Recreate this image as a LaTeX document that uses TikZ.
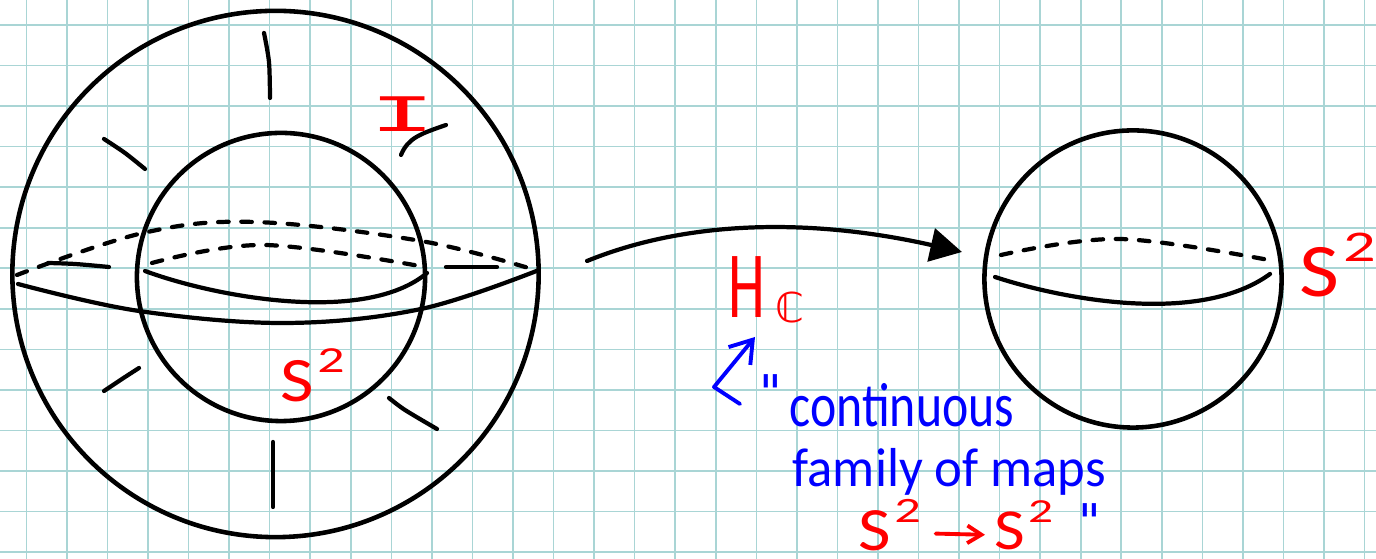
\documentclass[tikz,border=0pt]{standalone}
\usepackage{fontspec}
\setmainfont{Carlito}
\newfontfamily\slabfont{Liberation Mono}
\newfontfamily\symbfont{DejaVu Sans}
\usetikzlibrary{arrows.meta,positioning}
\definecolor{SketchRed}{HTML}{FF0000}
\definecolor{SketchBlue}{HTML}{0000FF}
\definecolor{SketchGrid}{HTML}{A9D5D5}
\newcommand{\handsize}[1]{\fontsize{#1}{#1}\selectfont}
\newcommand{\squared}{\scalebox{1.15}[1]{S}\kern.05em\raisebox{.47em}{\scalebox{.85}[.58]{2}}}
\tikzset{
  gridline/.style={draw=SketchGrid,line width=0.45pt},
  sphere/.style={circle,draw=black,line width=1.3pt,inner sep=0pt},
  stroke/.style={draw=black,line width=1.2pt,line cap=round},
  hidden/.style={stroke,dash pattern=on 3pt off 3.6pt},
  redlabel/.style={text=SketchRed,anchor=base west,inner sep=0pt},
  bluelabel/.style={text=SketchBlue,anchor=base west,inner sep=0pt},
  bigarrow/.style={-{Triangle[length=9pt,width=9.5pt]},stroke},
  bluearrow/.style={-{Straight Barb[length=6pt,width=8pt]},draw=SketchBlue,line width=1.1pt,line cap=round,line join=round},
  redarrow/.style={-{Straight Barb[length=4pt,width=5pt]},draw=SketchRed,line width=1.1pt,line cap=round}
}
\begin{document}
\begin{tikzpicture}[x=0.01cm,y=-0.01cm]
  \useasboundingbox (0,0) rectangle (1376,559);
  \foreach \k in {0,...,33} {
    \draw[gridline] ({26.4+40.55*\k},0) -- ({26.4+40.55*\k},559);
  }
  \foreach \k in {0,...,13} {
    \draw[gridline] (0,{25+40.55*\k}) -- (1376,{25+40.55*\k});
  }

  \node[sphere,minimum size=5.26cm] (outer) at (275.5,274) {};
  \node[sphere,minimum size=2.88cm] (inner) at (281,277) {};
  \node[sphere,minimum size=2.97cm] (target) at (1133,279) {};

  \draw[hidden] plot[smooth,tension=.6] coordinates {(17,275) (143,233) (255,222) (421,241) (535,270)};
  \draw[hidden] plot[smooth,tension=.6] coordinates {(152,263) (264,245) (425,267)};
  \draw[stroke] plot[smooth,tension=.6] coordinates {(18,284) (139,311) (286,323) (421,309) (539,270)};
  \draw[stroke] (145,271) .. controls (215,297) and (365,325) .. (427,273);
  \draw[hidden] plot[smooth,tension=.6] coordinates {(1001,255) (1120,239) (1274,261)};
  \draw[stroke] (995,277) .. controls (1065,300) and (1200,325) .. (1270,274);

  \draw[stroke] plot[smooth] coordinates {(264,33) (269,62) (270,98)};
  \draw[stroke] plot[smooth] coordinates {(104,139) (125,153) (145,169)};
  \draw[stroke] (446,125) .. controls (420,134) and (408,138) .. (401,155);
  \draw[stroke] plot[smooth] coordinates {(48,263) (75,264) (109,267)};
  \draw[stroke] (446,267) -- (497,267);
  \draw[stroke] plot[smooth] coordinates {(139,368) (122,379) (104,391)};
  \draw[stroke] plot[smooth] coordinates {(389,398) (405,410) (437,429)};
  \draw[stroke] (273,442) -- (273,507);

  \coordinate (mapfrom) at (587,261);
  \coordinate (mapto) at (962,252);
  \draw[bigarrow] (mapfrom) .. controls (700,215) and (830,222) .. (mapto);

  \node[redlabel,font=\slabfont\handsize{15},xscale=2.1,transform shape] (interval) at (368,132) {I};
  \node[redlabel,font=\handsize{18}] (innerlabel) at (280,402) {\squared};
  \node[redlabel,font=\handsize{21.5}] (targetlabel) at (1299,297) {\squared};
  \node[redlabel,font=\handsize{27},xscale=.62,transform shape] (hlabel) at (728,318) {H};
  \node[redlabel,font=\symbfont\handsize{11.7}] (hsub) at (775,323) {ℂ};

  \coordinate (bluefrom) at (740,404);
  \coordinate (bluecorner) at (714,387);
  \coordinate (blueto) at (755,337);
  \draw[bluearrow] (bluefrom) -- (bluecorner) -- (blueto);

  \node[bluelabel,font=\symbfont\handsize{14}] (openquote) at (759,411) {"};
  \node[bluelabel,font=\handsize{17.7},xscale=.8,transform shape] (line1) at (789,427) {continuous};
  \node[bluelabel,font=\handsize{15.6},xscale=.96,transform shape] (line2) at (792,487) {family of maps};
  \node[bluelabel,font=\symbfont\handsize{14}] (closequote) at (1078,540) {"};

  \node[redlabel,font=\handsize{17.5},inner xsep=4pt] (domain) at (844,551) {\squared};
  \node[redlabel,font=\handsize{16.5},inner xsep=2.5pt] (codomain) at (985,550) {\squared};
  \draw[redarrow] ([yshift=-2.4pt]domain.east) -- ([yshift=-2.6pt]codomain.west);
\end{tikzpicture}
\end{document}
